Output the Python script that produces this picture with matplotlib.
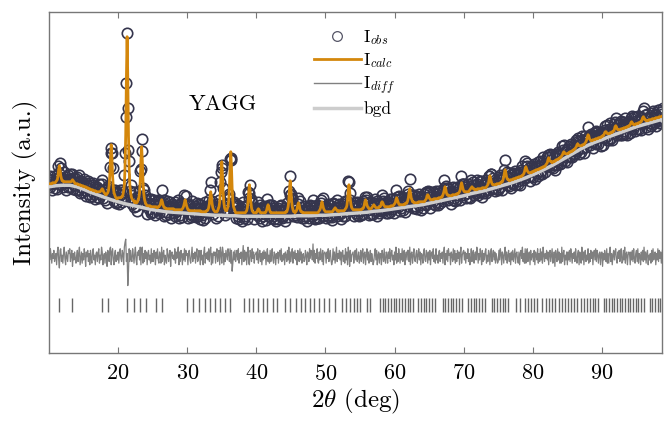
import numpy as np
import matplotlib
matplotlib.use("Agg")
import matplotlib.pyplot as plt
from matplotlib.lines import Line2D

plt.rcParams['font.family'] = 'cmr10'
plt.rcParams['mathtext.fontset'] = 'cm'
plt.rcParams['axes.formatter.use_mathtext'] = True

# step scan 10.0 - 98.9 deg, 0.1 deg step; one row = one degree
two_theta = np.round(np.arange(890) * 0.1 + 10.0, 1)

y_calc = [
    169, 169, 169, 169, 169, 170, 170, 170, 170, 170,  # 10
    171, 172, 173, 177, 183, 187, 183, 177, 174, 172,
    172, 171, 171, 171, 171, 171, 171, 171, 171, 171,
    171, 171, 171, 172, 173, 172, 171, 170, 169, 169,
    169, 169, 168, 168, 168, 168, 167, 167, 167, 167,
    166, 166, 166, 166, 165, 165, 165, 164, 164, 164,  # 15
    163, 163, 163, 163, 162, 162, 162, 162, 161, 161,
    161, 161, 161, 161, 161, 162, 163, 164, 163, 161,
    160, 159, 158, 158, 159, 160, 162, 167, 178, 195,
    208, 195, 177, 166, 160, 158, 156, 155, 154, 154,
    155, 155, 155, 155, 155, 156, 156, 158, 162, 168,  # 20
    185, 218, 275, 316, 274, 217, 184, 167, 161, 156,
    154, 153, 152, 152, 150, 151, 150, 150, 151, 153,
    155, 160, 172, 192, 206, 192, 171, 160, 154, 151,
    149, 148, 147, 147, 147, 147, 147, 146, 146, 146,
    146, 146, 146, 146, 146, 146, 145, 145, 146, 146,  # 25
    147, 148, 151, 153, 151, 148, 146, 145, 145, 144,
    144, 144, 144, 144, 144, 144, 144, 144, 144, 144,
    144, 143, 143, 143, 143, 143, 143, 143, 143, 143,
    143, 143, 143, 144, 145, 147, 150, 153, 150, 147,
    145, 143, 143, 142, 142, 142, 142, 142, 142, 142,  # 30
    142, 142, 142, 142, 142, 142, 142, 142, 142, 142,
    141, 141, 141, 141, 141, 141, 141, 141, 142, 142,
    143, 145, 149, 156, 161, 156, 149, 145, 143, 142,
    141, 141, 141, 141, 142, 144, 146, 151, 161, 178,
    191, 178, 160, 150, 145, 143, 142, 142, 144, 146,  # 35
    152, 164, 186, 201, 186, 164, 152, 146, 144, 142,
    140, 140, 140, 140, 140, 140, 140, 140, 140, 140,
    140, 140, 140, 140, 140, 141, 142, 145, 151, 161,
    168, 161, 151, 145, 142, 141, 140, 140, 140, 140,
    140, 141, 143, 144, 143, 141, 140, 140, 140, 140,  # 40
    140, 140, 140, 140, 141, 143, 146, 148, 146, 143,
    141, 140, 140, 140, 140, 140, 140, 140, 140, 140,
    140, 140, 140, 140, 140, 140, 140, 140, 140, 140,
    140, 140, 140, 141, 141, 143, 146, 152, 164, 172,
    164, 152, 146, 143, 141, 141, 140, 141, 142, 144,  # 45
    148, 150, 148, 144, 142, 141, 141, 140, 140, 140,
    140, 140, 140, 140, 140, 140, 140, 140, 140, 140,
    140, 140, 140, 140, 140, 140, 140, 140, 140, 140,
    141, 142, 143, 145, 148, 151, 148, 145, 143, 142,
    141, 141, 141, 141, 141, 141, 141, 141, 141, 141,  # 50
    141, 142, 143, 144, 145, 144, 143, 142, 142, 141,
    142, 142, 142, 142, 142, 142, 142, 142, 143, 144,
    145, 147, 153, 162, 168, 162, 153, 148, 145, 144,
    143, 143, 143, 143, 143, 143, 143, 143, 143, 143,
    143, 143, 143, 144, 144, 145, 147, 151, 153, 151,  # 55
    148, 146, 145, 144, 144, 144, 144, 145, 146, 147,
    148, 147, 146, 145, 145, 145, 145, 145, 146, 146,
    147, 150, 151, 150, 148, 147, 146, 146, 146, 146,
    146, 146, 146, 146, 146, 147, 147, 147, 147, 148,
    149, 150, 153, 155, 153, 151, 149, 148, 148, 148,  # 60
    148, 148, 148, 148, 148, 149, 149, 150, 150, 152,
    155, 160, 164, 160, 155, 153, 151, 151, 150, 150,
    150, 150, 150, 150, 150, 151, 151, 151, 151, 151,
    151, 151, 151, 151, 152, 153, 154, 157, 158, 157,
    155, 154, 153, 153, 153, 153, 153, 154, 154, 154,  # 65
    154, 154, 154, 154, 155, 155, 155, 155, 156, 156,
    158, 160, 163, 166, 164, 160, 158, 158, 157, 157,
    157, 157, 157, 157, 158, 158, 158, 158, 158, 158,
    159, 159, 159, 160, 161, 163, 167, 170, 167, 164,
    162, 161, 161, 161, 161, 161, 161, 161, 162, 163,  # 70
    164, 165, 166, 165, 164, 164, 163, 163, 163, 163,
    164, 164, 164, 164, 164, 164, 164, 165, 165, 165,
    165, 165, 165, 166, 167, 168, 170, 174, 177, 174,
    171, 169, 168, 168, 168, 168, 168, 168, 169, 169,
    169, 169, 169, 170, 170, 171, 171, 173, 176, 180,  # 75
    183, 180, 176, 174, 173, 173, 172, 172, 173, 173,
    173, 173, 174, 174, 174, 174, 175, 175, 175, 175,
    176, 176, 176, 176, 177, 177, 178, 179, 181, 184,
    186, 184, 182, 181, 180, 180, 180, 180, 180, 181,
    181, 181, 182, 182, 182, 183, 183, 183, 183, 184,  # 80
    184, 184, 185, 185, 185, 186, 186, 186, 187, 188,
    189, 190, 193, 195, 193, 192, 191, 191, 190, 191,
    191, 191, 192, 192, 193, 193, 193, 194, 194, 195,
    195, 196, 197, 198, 200, 201, 200, 199, 199, 199,
    199, 199, 200, 200, 201, 201, 201, 202, 202, 203,  # 85
    203, 204, 205, 206, 208, 209, 208, 207, 207, 207,
    207, 207, 208, 208, 208, 209, 210, 211, 213, 216,
    218, 217, 214, 213, 212, 212, 212, 213, 213, 213,
    213, 214, 214, 214, 214, 215, 215, 215, 215, 216,
    216, 217, 217, 218, 220, 221, 221, 220, 219, 219,  # 90
    219, 219, 220, 220, 220, 221, 221, 222, 223, 226,
    227, 226, 224, 223, 223, 223, 223, 223, 224, 224,
    224, 224, 225, 225, 225, 225, 226, 226, 226, 227,
    227, 228, 230, 231, 230, 229, 228, 228, 228, 229,
    229, 229, 229, 230, 230, 230, 231, 231, 233, 235,  # 95
    236, 235, 233, 233, 232, 232, 232, 232, 233, 233,
    233, 233, 233, 234, 234, 234, 234, 234, 235, 235,
    235, 235, 235, 236, 236, 236, 236, 236, 237, 237,
]

# I_obs - I_calc on the same grid, read in steps of resid_unit
resid_unit = 1.6
y_resid = [
    3, -2, 5, 1, -4, 2, -1, 4, -3, 0,  # 10
    2, -5, 3, 6, -2, -7, 4, 5, -3, 1,
    -4, 2, 6, -1, -5, 3, 0, -3, 4, 2,
    5, -3, 1, 4, -6, 2, -2, 3, -1, -4,
    1, 4, -3, 2, 6, -5, -1, 3, -4, 2,
    -2, 5, 1, -6, 3, 0, 4, -3, 2, -5,  # 15
    4, -1, -4, 3, 5, -2, 1, -5, 2, 3,
    -3, 2, 5, -4, 1, -2, 6, 3, -5, 0,
    2, -4, 3, 1, -6, 4, 2, -3, 5, 6,
    -5, 3, 5, -2, -5, 2, 4, -3, 1, -2,
    3, -4, 2, 5, -1, -3, 4, 2, -5, 6,  # 20
    9, 11, -3, 2, -18, -9, 5, -3, 4, -2,
    -3, 5, 1, -4, 2, 6, -2, -5, 3, 1,
    4, -2, 6, -5, 5, 6, -4, 2, -3, 4,
    -1, 3, -5, 2, 4, -2, 1, -4, 5, -3,
    2, -3, 4, 1, -5, 3, -1, 5, -2, -4,  # 25
    3, 1, -4, 6, -3, 2, 4, -5, 1, -2,
    -4, 5, 2, -3, 1, 4, -6, 2, 3, -1,
    1, -2, 5, -4, 3, -1, 2, 6, -5, 3,
    -3, 4, 1, -5, 2, -2, 5, -3, 4, 1,
    2, -5, 3, 4, -2, -4, 1, 6, -3, 2,  # 30
    -1, 3, -4, 2, 5, -3, -2, 4, 1, -5,
    4, -2, 1, -5, 3, 6, -4, 2, -1, 3,
    -2, 5, -3, 4, 6, -5, 2, -4, 3, 1,
    3, -4, 2, 5, -3, 1, 4, -5, 6, 2,
    -4, 6, 3, -5, 2, -3, 4, 1, -2, 5,  # 35
    2, -3, 5, -4, 4, -9, -4, 3, -2, 4,
    -3, 1, 4, -2, 5, -4, 2, -1, 3, -5,
    1, 7, -3, 4, -2, 3, -5, 2, 6, -4,
    -5, 4, 2, -3, 5, -1, 3, -4, 1, 2,
    3, -2, 5, -4, 1, 4, -3, 2, -5, 3,  # 40
    -2, 4, -1, 3, -5, 2, 5, -3, 1, -4,
    4, -3, 2, 5, -2, -4, 3, 1, -5, 2,
    -1, 3, -4, 2, 4, -2, 5, -3, 1, -2,
    2, -5, 3, 1, -3, 4, -2, 6, -4, 3,
    -3, 2, 5, -4, 3, -1, 4, -2, 2, -5,  # 45
    4, -1, -3, 5, -2, 3, -4, 1, 2, -3,
    -2, 4, 1, -5, 3, 2, -3, 5, -1, 4,
    3, -2, 8, -3, 4, -4, 2, -1, 5, -3,
    -4, 3, -2, 5, 1, -3, 4, -5, 2, 3,
    2, -4, 3, -1, 5, -3, 1, 4, -2, -5,  # 50
    -3, 5, -2, 3, -4, 1, 6, -3, 2, -1,
    4, -2, 3, -5, 2, 4, -3, 1, -4, 5,
    -2, 3, -5, 6, 2, -6, 4, -3, 1, 2,
    3, -4, 1, 4, -2, 5, -3, -1, 3, -4,
    -1, 4, -3, 2, 5, -4, 2, 3, -5, 1,  # 55
    5, -2, 3, -4, 1, 4, -3, 2, -1, -5,
    -3, 2, 5, -2, 4, -5, 1, 3, -4, 2,
    2, -5, 4, 1, -3, 5, -2, -4, 3, 1,
    -4, 3, -1, 5, -3, 2, 4, -2, 1, -5,
    3, -2, 6, -4, 2, -3, 5, 1, -4, 2,  # 60
    -2, 5, -3, 2, 4, -5, 1, 3, -2, 4,
    4, -3, 6, -5, 2, 3, -4, 1, 5, -2,
    -3, 2, 4, -4, 1, 5, -2, 3, -5, 2,
    1, -4, 3, 5, -2, -3, 4, 2, -4, 3,
    -2, 4, -5, 2, 3, -1, 5, -3, 1, -4,  # 65
    5, -2, 1, -4, 3, 4, -3, 2, -1, 3,
    -4, 3, 6, -5, 2, -2, 4, -3, 5, 1,
    2, -5, 3, 1, -3, 5, -2, 4, -4, 2,
    -3, 4, -1, 3, -5, 2, 6, -4, 1, 3,
    4, -2, 3, -4, 2, -1, 5, -3, 2, -5,  # 70
    -1, 5, -3, 2, 4, -4, 1, 3, -2, 6,
    3, -4, 2, -2, 5, 1, -5, 4, -3, 2,
    -2, 3, 5, -4, 1, -3, 4, 2, -5, 3,
    5, -3, 1, 4, -2, 3, -4, 2, -1, -4,
    -3, 4, -2, 5, 2, -5, 3, 1, -4, 2,  # 75
    6, -2, 3, -4, 1, 4, -3, 2, -5, 3,
    -2, 4, -3, 1, 5, -4, 2, 3, -2, -4,
    3, -5, 2, 4, -1, 6, -3, 2, -4, 5,
    -4, 2, 5, -3, 1, 3, -5, 4, -2, 1,
    2, -3, 4, -5, 3, 1, -2, 5, -4, 2,  # 80
    -3, 5, -2, 3, -4, 6, 1, -3, 2, -1,
    4, -2, 3, -5, 2, 4, -3, 1, 5, -4,
    -2, 3, -6, 4, 1, -3, 5, -2, 3, -4,
    2, -4, 6, -3, 2, 4, -5, 1, -2, 3,
    -5, 3, -2, 4, -3, 5, 1, -4, 2, -1,  # 85
    3, -3, 5, -1, -4, 2, 4, -5, 3, 1,
    -4, 6, -2, 3, -5, 2, 4, -3, 1, -2,
    5, -4, 2, -3, 4, -1, 3, -5, 2, 4,
    -2, 5, -3, 4, 1, -4, 2, 3, -5, 2,
    3, -6, 2, -2, 4, 1, -3, 5, -4, 2,  # 90
    -4, 3, 6, -3, 2, -5, 1, 4, -2, 3,
    5, -2, -4, 3, -1, 4, -3, 2, 5, -4,
    -3, 4, -2, 6, -4, 2, 3, -5, 1, 3,
    2, -5, 3, -2, 4, -3, 5, -1, -4, 2,
    4, -3, 5, -4, 2, 1, -5, 3, -2, 4,  # 95
    -3, 6, -2, 3, -4, 2, 4, -5, 1, -2,
    2, -4, 4, -3, 5, -2, 1, 3, -5, 2,
    -2, 5, -3, 4, -1, 3, -4, 2, 5, -3,
]

# refined background, 1 deg knots
bgd_theta = list(range(10, 100))
bgd = [
    166, 167, 167.5, 167.5, 166, 163.5, 160.5, 158, 155.5, 153,
    151, 149, 147.5, 146, 144.5, 143, 142, 141, 140.5, 140,
    139.5, 139, 138.5, 138, 137.5, 137.5, 137, 137, 136.5, 136.5,
    136.5, 136.5, 136.5, 136.5, 136.5, 136.5, 137, 137, 137, 137.5,
    137.5, 138, 138.5, 139, 139.5, 140, 140.5, 141.5, 142, 143,
    144, 145, 146, 147, 148, 149.5, 151, 152.5, 154, 155.5,
    157, 159, 160.5, 162, 164, 166, 168, 170, 172.5, 175,
    178, 181, 184.5, 188, 192, 196, 200, 204, 207.5, 210.5,
    213, 216, 218.5, 221, 223.5, 226, 228, 230, 232, 234,
]

# Bragg reflection positions (deg)
reflections = [
    11.45, 13.37, 17.71, 18.58, 21.33, 22.25, 23.11, 24.03, 25.48, 26.34,
    29.91, 30.78, 31.69, 32.56, 33.29, 33.97, 34.73, 35.50, 36.18,
    38.20, 38.88, 39.55, 40.27, 40.91, 41.53, 42.44, 43.02, 44.13, 44.86,
    45.72, 46.40, 47.03, 47.75, 48.37, 49.10, 49.77, 50.45, 51.37, 52.33,
    52.91, 53.53, 54.16, 54.55, 54.95, 55.95, 56.43,
    57.87, 58.27, 58.67, 59.07, 59.47, 59.87, 60.27, 60.67, 61.07, 61.48,
    61.88, 62.28, 62.69,
    63.41, 63.81, 64.22, 64.62, 65.02, 65.42, 65.83,
    66.94, 67.33, 67.73, 68.12, 68.51, 68.91, 69.30, 69.69,
    70.65, 71.05, 71.45, 71.85, 72.26, 72.66, 73.06,
    74.03, 74.43, 74.83, 75.23, 75.63, 76.03, 76.43,
    77.64, 78.22,
    78.85, 79.27, 79.70, 80.12, 80.54,
    81.40, 81.85, 82.29, 82.74, 83.18,
    83.80, 84.23, 84.67, 85.10, 85.53, 85.97, 86.40,
    87.04, 87.44, 87.84, 88.24, 88.65, 89.05, 89.45,
    90.27, 90.66, 91.04, 91.43, 91.81, 92.20, 92.59, 92.97, 93.36, 93.74,
    94.13, 94.52, 94.90, 95.29, 95.67, 96.06,
    96.92, 97.31, 97.70, 98.09, 98.48,
]

diff_offset = 96
tick_lo, tick_hi = 41, 54.5

y_calc = np.array(y_calc, dtype=float)
y_obs = y_calc + resid_unit * np.array(y_resid, dtype=float)

obs_col = '#35354d'
calc_col = '#d4870c'
diff_col = '#808080'
bgd_col = '#cdcdcd'

fig = plt.figure(figsize=(6.65, 4.22), dpi=100)
ax = fig.add_axes([0.0737, 0.164, 0.9218, 0.8076])

ax.plot(two_theta, y_obs, 'o', mfc='none', mec=obs_col, ms=7.5, mew=1.2, zorder=1)
ax.plot(two_theta, y_obs - y_calc + diff_offset, color=diff_col, lw=0.9, zorder=2)
ax.plot(bgd_theta, bgd, color=bgd_col, lw=2.5, zorder=3)
ax.plot(two_theta, y_calc, color=calc_col, lw=2, zorder=4)
ax.vlines(reflections, tick_lo, tick_hi, color='#666666', lw=1, zorder=2)

ax.set_xlim(10, 98.7)
ax.set_ylim(0, 340.7)
ax.set_xticks(range(20, 100, 10))
ax.set_yticks([])
ax.tick_params(axis='x', direction='in', top=True, length=4, width=0.8,
               color='#777777', labelsize=16, pad=8)
for s in ax.spines.values():
    s.set_color('#777777')
    s.set_linewidth(1)

ax.set_xlabel(r'$2\theta$ (deg)', fontsize=18, labelpad=2)
ax.set_ylabel('Intensity (a.u.)', fontsize=18, labelpad=8)

ax.text(0.284, 0.73, 'YAGG', transform=ax.transAxes, fontsize=16,
        ha='center', va='center')

handles = [
    Line2D([], [], ls='none', marker='o', mfc='none', mec='#555566', ms=7, mew=0.9),
    Line2D([], [], color=calc_col, lw=2),
    Line2D([], [], color=diff_col, lw=1),
    Line2D([], [], color=bgd_col, lw=2.5),
]
labels = [r'I$_{obs}$', r'I$_{calc}$', r'I$_{diff}$', 'bgd']
ax.legend(handles, labels, loc='upper left', bbox_to_anchor=(0.432, 0.953),
          frameon=False, fontsize=12.5, handlelength=2.7, handletextpad=0.15,
          labelspacing=0.25, borderpad=0, borderaxespad=0)

fig.savefig('out.png', dpi=100)
